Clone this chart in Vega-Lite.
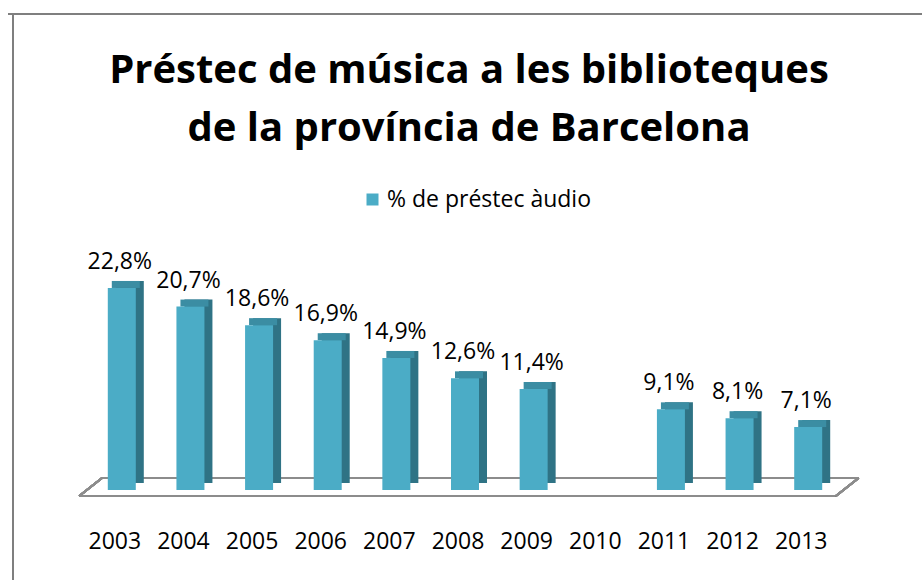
{
  "$schema": "https://vega.github.io/schema/vega-lite/v6.json",
  "width": 914,
  "height": 566,
  "autosize": {"type": "none"},
  "padding": {"left": 8, "top": 14, "right": 0, "bottom": 0},
  "background": "white",
  "config": {
    "view": {"stroke": null},
    "font": "Open Sans",
    "text": {"font": "Open Sans", "color": "black"}
  },
  "title": {
    "text": ["Préstec de música a les biblioteques", "de la província de Barcelona"],
    "font": "Open Sans",
    "fontSize": 40,
    "fontWeight": "bold",
    "color": "black",
    "anchor": "middle",
    "frame": "group",
    "orient": "top",
    "baseline": "alphabetic",
    "offset": 0,
    "dy": 168,
    "dx": 4,
    "lineHeight": 58
  },
  "data": {
    "values": [
      {"year": 2003, "value": 22.8, "label": "22,8%"},
      {"year": 2004, "value": 20.7, "label": "20,7%"},
      {"year": 2005, "value": 18.6, "label": "18,6%"},
      {"year": 2006, "value": 16.9, "label": "16,9%"},
      {"year": 2007, "value": 14.9, "label": "14,9%"},
      {"year": 2008, "value": 12.6, "label": "12,6%"},
      {"year": 2009, "value": 11.4, "label": "11,4%"},
      {"year": 2010, "value": null, "label": ""},
      {"year": 2011, "value": 9.1, "label": "9,1%"},
      {"year": 2012, "value": 8.1, "label": "8,1%"},
      {"year": 2013, "value": 7.1, "label": "7,1%"}
    ]
  },
  "encoding": {
    "x": {"field": "year", "type": "quantitative", "scale": {"domain": [2001.415, 2014.585], "nice": false, "zero": false}, "axis": null}
  },
  "layer": [
    {
      "mark": {"type": "rule", "color": "#7F7F7F", "strokeWidth": 2},
      "encoding": {"x": {"datum": 2001.415, "type": "quantitative"}}
    },
    {
      "mark": {"type": "rule", "color": "#7F7F7F", "strokeWidth": 2},
      "encoding": {"x": null, "y": {"datum": 53.72, "type": "quantitative", "scale": {"domain": [-10.16, 53.72], "nice": false, "zero": false}, "axis": null}}
    },
    {
      "mark": {"type": "rule", "color": "#8C8C8C", "strokeWidth": 2},
      "encoding": {
        "x": {"datum": 2002.38, "type": "quantitative"},
        "x2": {"datum": 2013.403},
        "y": {"datum": -0.68, "type": "quantitative"},
        "y2": {"datum": -0.68}
      }
    },
    {
      "mark": {"type": "rule", "color": "#8C8C8C", "strokeWidth": 2},
      "encoding": {
        "x": {"datum": 2002.712, "type": "quantitative"},
        "x2": {"datum": 2013.735},
        "y": {"datum": 1.354, "type": "quantitative"},
        "y2": {"datum": 1.354}
      }
    },
    {
      "mark": {"type": "rule", "color": "#8C8C8C", "strokeWidth": 2},
      "encoding": {
        "x": {"datum": 2002.38, "type": "quantitative"},
        "x2": {"datum": 2002.712},
        "y": {"datum": -0.68, "type": "quantitative"},
        "y2": {"datum": 1.354}
      }
    },
    {
      "mark": {"type": "rule", "color": "#8C8C8C", "strokeWidth": 2},
      "encoding": {
        "x": {"datum": 2013.403, "type": "quantitative"},
        "x2": {"datum": 2013.735},
        "y": {"datum": -0.68, "type": "quantitative"},
        "y2": {"datum": 1.354}
      }
    },
    {
      "mark": {"type": "bar", "width": 28, "color": "#2F7385", "xOffset": 8, "yOffset": -7, "y2Offset": -7},
      "encoding": {
        "y": {"field": "value", "type": "quantitative"},
        "y2": {"datum": 0}
      }
    },
    {
      "mark": {"type": "bar", "width": 28, "color": "#3B8DA3", "xOffset": 4, "yOffset": -7, "y2Offset": 0},
      "encoding": {
        "y": {"field": "value", "type": "quantitative"},
        "y2": {"field": "value"}
      }
    },
    {
      "mark": {"type": "bar", "width": 28},
      "encoding": {
        "y": {"field": "value", "type": "quantitative"},
        "y2": {"datum": 0},
        "color": {
          "datum": "% de préstec àudio",
          "type": "nominal",
          "scale": {"range": ["#4BACC6"]},
          "legend": {
            "orient": "none",
            "legendX": 353,
            "legendY": 174,
            "title": null,
            "labelFont": "Open Sans",
            "labelFontSize": 23,
            "labelColor": "black",
            "labelLimit": 0,
            "symbolType": "square",
            "symbolSize": 144,
            "symbolStrokeWidth": 0,
            "labelOffset": 3
          }
        }
      }
    },
    {
      "mark": {"type": "text", "fontSize": 23, "baseline": "alphabetic", "align": "center", "dy": -19, "xOffset": -2},
      "encoding": {
        "y": {"field": "value", "type": "quantitative"},
        "text": {"field": "label", "type": "nominal"}
      }
    },
    {
      "mark": {"type": "text", "fontSize": 23, "baseline": "alphabetic", "align": "center", "xOffset": -7},
      "encoding": {
        "y": {"datum": -6.66, "type": "quantitative"},
        "text": {"field": "year", "type": "nominal"}
      }
    }
  ]
}
